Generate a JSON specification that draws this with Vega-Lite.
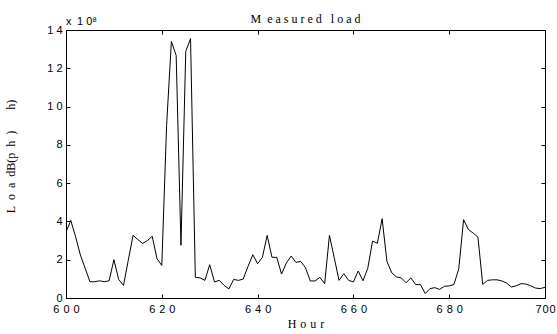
{
  "$schema": "https://vega.github.io/schema/vega-lite/v6.json",
  "width": 479,
  "height": 268,
  "autosize": {"type": "none"},
  "padding": {"left": 66, "top": 30, "right": 12, "bottom": 36},
  "background": "white",
  "config": {
    "view": {"stroke": "black", "strokeWidth": 1},
    "axis": {"grid": false, "domainColor": "black", "tickColor": "black", "labelColor": "black", "titleColor": "black", "labelFont": "Liberation Sans", "labelFontSize": 11, "titleFont": "Liberation Serif", "titleFontWeight": "normal", "titleFontSize": 12, "labelFlush": false}
  },
  "title": {"text": "M\u2002e\u00a0a\u00a0s\u00a0u\u00a0r\u00a0e\u00a0d\u2002\u00a0l\u00a0o\u00a0a\u00a0d", "font": "Liberation Serif", "fontSize": 12, "fontWeight": "normal", "color": "black", "offset": -10, "anchor": "middle"},
  "datasets": {
    "load": [
      {"hour": 600, "load": 3.45}, {"hour": 601, "load": 4.05}, {"hour": 602, "load": 3.2}, {"hour": 603, "load": 2.25}, {"hour": 604, "load": 1.55},
      {"hour": 605, "load": 0.85}, {"hour": 606, "load": 0.85}, {"hour": 607, "load": 0.9}, {"hour": 608, "load": 0.85}, {"hour": 609, "load": 0.9},
      {"hour": 610, "load": 2.0}, {"hour": 611, "load": 0.97}, {"hour": 612, "load": 0.66}, {"hour": 613, "load": 1.97}, {"hour": 614, "load": 3.27},
      {"hour": 615, "load": 3.05}, {"hour": 616, "load": 2.85}, {"hour": 617, "load": 3.0}, {"hour": 618, "load": 3.22}, {"hour": 619, "load": 2.05},
      {"hour": 620, "load": 1.7}, {"hour": 621, "load": 9.0}, {"hour": 622, "load": 13.4}, {"hour": 623, "load": 12.67}, {"hour": 624, "load": 2.75},
      {"hour": 625, "load": 12.88}, {"hour": 626, "load": 13.55}, {"hour": 627, "load": 1.08}, {"hour": 628, "load": 1.05}, {"hour": 629, "load": 0.92},
      {"hour": 630, "load": 1.74}, {"hour": 631, "load": 0.84}, {"hour": 632, "load": 0.92}, {"hour": 633, "load": 0.66}, {"hour": 634, "load": 0.47},
      {"hour": 635, "load": 0.97}, {"hour": 636, "load": 0.92}, {"hour": 637, "load": 0.99}, {"hour": 638, "load": 1.65}, {"hour": 639, "load": 2.26},
      {"hour": 640, "load": 1.79}, {"hour": 641, "load": 2.12}, {"hour": 642, "load": 3.27}, {"hour": 643, "load": 2.13}, {"hour": 644, "load": 2.12},
      {"hour": 645, "load": 1.25}, {"hour": 646, "load": 1.83}, {"hour": 647, "load": 2.19}, {"hour": 648, "load": 1.86}, {"hour": 649, "load": 1.91},
      {"hour": 650, "load": 1.58}, {"hour": 651, "load": 0.89}, {"hour": 652, "load": 0.89}, {"hour": 653, "load": 1.08}, {"hour": 654, "load": 0.75},
      {"hour": 655, "load": 3.27}, {"hour": 656, "load": 2.1}, {"hour": 657, "load": 0.92}, {"hour": 658, "load": 1.27}, {"hour": 659, "load": 0.92},
      {"hour": 660, "load": 0.84}, {"hour": 661, "load": 1.41}, {"hour": 662, "load": 0.9}, {"hour": 663, "load": 1.55}, {"hour": 664, "load": 2.97},
      {"hour": 665, "load": 2.86}, {"hour": 666, "load": 4.14}, {"hour": 667, "load": 1.91}, {"hour": 668, "load": 1.32}, {"hour": 669, "load": 1.1},
      {"hour": 670, "load": 1.05}, {"hour": 671, "load": 0.8}, {"hour": 672, "load": 1.05}, {"hour": 673, "load": 0.7}, {"hour": 674, "load": 0.7},
      {"hour": 675, "load": 0.23}, {"hour": 676, "load": 0.49}, {"hour": 677, "load": 0.54}, {"hour": 678, "load": 0.45}, {"hour": 679, "load": 0.61},
      {"hour": 680, "load": 0.63}, {"hour": 681, "load": 0.71}, {"hour": 682, "load": 1.53}, {"hour": 683, "load": 4.09}, {"hour": 684, "load": 3.58},
      {"hour": 685, "load": 3.39}, {"hour": 686, "load": 3.18}, {"hour": 687, "load": 0.71}, {"hour": 688, "load": 0.92}, {"hour": 689, "load": 0.95},
      {"hour": 690, "load": 0.95}, {"hour": 691, "load": 0.89}, {"hour": 692, "load": 0.78}, {"hour": 693, "load": 0.57}, {"hour": 694, "load": 0.64},
      {"hour": 695, "load": 0.75}, {"hour": 696, "load": 0.73}, {"hour": 697, "load": 0.64}, {"hour": 698, "load": 0.52}, {"hour": 699, "load": 0.49},
      {"hour": 700, "load": 0.56}
    ],
    "note": [{"hour": 600, "load": 14, "label": "x\u20021\u00a00⁸"}]
  },
  "layer": [
    {
      "data": {"name": "load"},
      "mark": {"type": "line", "color": "black", "strokeWidth": 1, "clip": true},
      "encoding": {
        "x": {"field": "hour", "type": "quantitative", "scale": {"domain": [600, 700], "nice": false, "zero": false},
          "axis": {"orient": "bottom", "values": [600, 620, 640, 660, 680, 700], "tickSize": -4, "labelPadding": 9, "labelExpr": "join(split(datum.label, ''), datum.value == 700 ? '\u200a' : '\u00a0\u200a')", "title": "H\u2004o\u2004u\u2004r", "titlePadding": 4}},
        "y": {"field": "load", "type": "quantitative", "scale": {"domain": [0, 14], "nice": false},
          "axis": {"orient": "left", "values": [0, 2, 4, 6, 8, 10, 12, 14], "tickSize": -4, "labelPadding": 8, "labelExpr": "join(split(datum.label, ''), '\u00a0')", "title": "L\u2002o\u2002a\u2002dB(p\u2002h\u2002)\u2002\u2002\u2002\u00a0h)", "titleX": -49, "titleY": 126}}
      }
    },
    {
      "data": {"name": "load"},
      "mark": {"type": "line", "opacity": 0},
      "encoding": {
        "x": {"field": "hour", "type": "quantitative", "axis": {"orient": "top", "values": [620, 640, 660, 680], "tickSize": -4, "labels": false, "title": null}},
        "y": {"field": "load", "type": "quantitative", "axis": {"orient": "right", "values": [2, 4, 6, 8, 10, 12], "tickSize": -4, "labels": false, "title": null}}
      }
    },
    {
      "data": {"name": "note"},
      "mark": {"type": "text", "align": "left", "baseline": "bottom", "dy": -3, "font": "Liberation Sans", "fontSize": 11, "color": "black"},
      "encoding": {
        "x": {"field": "hour", "type": "quantitative", "axis": null},
        "y": {"field": "load", "type": "quantitative", "axis": null},
        "text": {"field": "label"}
      }
    }
  ],
  "resolve": {"axis": {"x": "independent", "y": "independent"}}
}
